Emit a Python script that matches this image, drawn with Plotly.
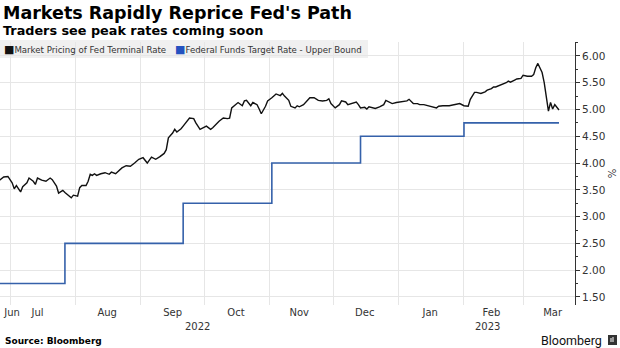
import plotly.graph_objects as go

# ---- Data ----
terminal_dates = [
    "2022-06-26","2022-06-28","2022-06-30","2022-07-01","2022-07-02","2022-07-03","2022-07-04","2022-07-06",
    "2022-07-07","2022-07-09","2022-07-10","2022-07-12","2022-07-13","2022-07-14","2022-07-16","2022-07-18",
    "2022-07-20","2022-07-21","2022-07-23","2022-07-24","2022-07-26","2022-07-27","2022-07-30","2022-07-31",
    "2022-08-02","2022-08-03","2022-08-04","2022-08-06","2022-08-07","2022-08-08","2022-08-09","2022-08-10",
    "2022-08-11","2022-08-13","2022-08-15","2022-08-17","2022-08-18","2022-08-20","2022-08-22","2022-08-23",
    "2022-08-25","2022-08-27","2022-08-29","2022-08-31","2022-09-02","2022-09-04","2022-09-06","2022-09-08",
    "2022-09-10","2022-09-12","2022-09-13","2022-09-14","2022-09-16","2022-09-17","2022-09-18","2022-09-20",
    "2022-09-21","2022-09-23","2022-09-24","2022-09-26","2022-09-27","2022-09-29","2022-10-01","2022-10-02",
    "2022-10-04","2022-10-05","2022-10-08","2022-10-10","2022-10-12","2022-10-13","2022-10-14","2022-10-16",
    "2022-10-17","2022-10-19","2022-10-20","2022-10-21","2022-10-23","2022-10-24","2022-10-26","2022-10-27",
    "2022-10-28","2022-10-30","2022-10-31","2022-11-02","2022-11-04","2022-11-06","2022-11-07","2022-11-08",
    "2022-11-10","2022-11-11","2022-11-13","2022-11-14","2022-11-15","2022-11-17","2022-11-19","2022-11-20",
    "2022-11-22","2022-11-24","2022-11-26","2022-11-28","2022-11-29","2022-11-30","2022-12-02","2022-12-04",
    "2022-12-05","2022-12-07","2022-12-08","2022-12-10","2022-12-12","2022-12-13","2022-12-14","2022-12-16",
    "2022-12-17","2022-12-18","2022-12-20","2022-12-21","2022-12-23","2022-12-25","2022-12-26","2022-12-28",
    "2022-12-29","2022-12-31","2023-01-02","2023-01-03","2023-01-05","2023-01-06","2023-01-08","2023-01-10",
    "2023-01-11","2023-01-13","2023-01-15","2023-01-17","2023-01-19","2023-01-20","2023-01-22","2023-01-25",
    "2023-01-28","2023-01-30","2023-02-01","2023-02-03","2023-02-04","2023-02-06","2023-02-07","2023-02-09",
    "2023-02-11","2023-02-12","2023-02-14","2023-02-15","2023-02-16","2023-02-18","2023-02-19","2023-02-21",
    "2023-02-22","2023-02-23","2023-02-25","2023-02-26","2023-02-28","2023-03-01","2023-03-03","2023-03-05",
    "2023-03-06","2023-03-07","2023-03-08","2023-03-10","2023-03-11","2023-03-13","2023-03-14","2023-03-15",
    "2023-03-16","2023-03-18",
]
terminal_rate = [
    3.68,3.74,3.75,3.70,3.63,3.52,3.58,3.46,
    3.56,3.63,3.72,3.66,3.60,3.72,3.68,3.66,
    3.72,3.69,3.57,3.44,3.49,3.45,3.35,3.40,
    3.38,3.54,3.58,3.58,3.66,3.79,3.77,3.80,
    3.77,3.80,3.82,3.79,3.83,3.80,3.87,3.91,
    3.95,3.94,4.00,4.07,4.10,4.00,4.11,4.07,
    4.12,4.18,4.25,4.47,4.56,4.63,4.58,4.64,
    4.69,4.78,4.84,4.83,4.75,4.63,4.66,4.69,
    4.63,4.66,4.78,4.84,4.83,4.84,5.03,5.11,
    5.13,5.07,5.16,5.17,5.07,5.13,5.09,5.01,
    4.92,5.06,5.16,5.22,5.29,5.26,5.30,5.25,
    5.17,5.06,5.03,5.07,5.05,5.09,5.17,5.22,
    5.22,5.17,5.16,5.17,5.20,5.11,5.03,5.09,
    5.16,5.14,5.09,5.11,5.14,5.09,5.03,5.04,
    5.01,5.05,5.03,5.02,5.05,5.09,5.17,5.13,
    5.11,5.13,5.14,5.14,5.16,5.19,5.11,5.11,
    5.09,5.09,5.07,5.06,5.03,5.06,5.07,5.07,
    5.09,5.11,5.07,5.06,5.19,5.32,5.32,5.30,
    5.33,5.36,5.39,5.42,5.42,5.45,5.47,5.50,
    5.53,5.51,5.55,5.57,5.58,5.64,5.62,5.62,
    5.65,5.78,5.86,5.69,5.50,4.97,5.13,5.01,
    5.09,4.99,
]

ffr_dates = ["2022-06-26","2022-07-27","2022-09-21","2022-11-02","2022-12-14","2023-02-01","2023-03-18"]
ffr_upper = [1.75, 2.50, 3.25, 4.00, 4.50, 4.75, 4.75]

month_tick_dates = ["2022-07-02","2022-07-14","2022-08-16","2022-09-16","2022-10-16","2022-11-15",
                    "2022-12-16","2023-01-16","2023-02-14","2023-03-15"]
month_tick_labels = ["Jun","Jul","Aug","Sep","Oct","Nov","Dec","Jan","Feb","Mar"]
year_label_dates = ["2022-09-28","2023-02-12"]
year_labels = ["2022","2023"]

series_names = ["Market Pricing of Fed Terminal Rate", "Federal Funds Target Rate - Upper Bound"]
series_colors = ["#111111", "#3561aa"]
legend_colors = ["#111111", "#2452c0"]

# ---- Geometry helpers (pixel -> paper) ----
W, H = 620, 348
ML, MR, MT, MB = 0, 45, 42, 43
PW, PH = W - ML - MR, H - MT - MB
def px(p):
    return (p - ML) / PW
def py(p):
    return (H - MB - p) / PH

fig = go.Figure()
fig.add_trace(go.Scatter(x=terminal_dates, y=terminal_rate, mode="lines",
                         line=dict(color=series_colors[0], width=1.4), name=series_names[0]))
fig.add_trace(go.Scatter(x=ffr_dates, y=ffr_upper, mode="lines", line_shape="hv",
                         line=dict(color=series_colors[1], width=1.6), name=series_names[1]))

FONT = "DejaVu Sans"
fig.update_layout(
    width=W, height=H, margin=dict(l=ML, r=MR, t=MT, b=MB),
    plot_bgcolor="white", paper_bgcolor="white", showlegend=False,
    font=dict(family=FONT, size=10, color="#333333"),
    xaxis=dict(
        type="date", range=["2022-06-26 06:00", "2023-03-25 14:00"],
        tickmode="array", tickvals=month_tick_dates, ticktext=month_tick_labels,
        showgrid=False, showline=False, zeroline=False, ticks="",
        tickfont=dict(family=FONT, size=10, color="#333333"),
        minor=dict(tickmode="linear", tick0="2022-07-01", dtick="M1", showgrid=True,
                   gridcolor="#e6e6e6", gridwidth=1, ticks=""),
    ),
    yaxis=dict(
        side="right", range=[1.35, 6.26], dtick=0.5, tick0=0, tickformat=".2f",
        showgrid=True, gridcolor="#e6e6e6", gridwidth=1, zeroline=False,
        showline=True, linecolor="#333333", linewidth=1,
        ticks="outside", ticklen=4, tickcolor="#333333",
        minor=dict(dtick=0.25, ticks="outside", ticklen=2, tickcolor="#333333", showgrid=False),
        tickfont=dict(family=FONT, size=10.5, color="#333333"),
        title=dict(text="%", font=dict(family=FONT, size=10, color="#333333"), standoff=4),
    ),
)

ann = []
ann.append(dict(text="<b>Markets Rapidly Reprice Fed's Path</b>", x=px(1), y=py(13.5), xref="paper", yref="paper",
                xanchor="left", yanchor="middle", showarrow=False,
                font=dict(family=FONT, size=17.5, color="#000000")))
ann.append(dict(text="<b>Traders see peak rates coming soon</b>", x=px(1), y=py(31), xref="paper", yref="paper",
                xanchor="left", yanchor="middle", showarrow=False,
                font=dict(family=FONT, size=12.8, color="#000000")))
# legend
legend_x = [2, 173]
for i in range(2):
    ann.append(dict(text=f"<span style='color:{legend_colors[i]};font-size:11px'>■</span>{series_names[i]}",
                    x=px(legend_x[i]), y=py(49.5), xref="paper", yref="paper",
                    xanchor="left", yanchor="middle", showarrow=False,
                    font=dict(family=FONT, size=8.6, color="#333333")))
for d, t in zip(year_label_dates, year_labels):
    ann.append(dict(text=t, x=d, y=py(326), xref="x", yref="paper", xanchor="center", yanchor="middle",
                    showarrow=False, font=dict(family=FONT, size=10, color="#333333")))
ann.append(dict(text="<b>Source: Bloomberg</b>", x=px(3), y=py(341), xref="paper", yref="paper",
                xanchor="left", yanchor="middle", showarrow=False,
                font=dict(family=FONT, size=9, color="#000000")))
ann.append(dict(text="Bloomberg", x=px(604), y=py(340), xref="paper", yref="paper",
                xanchor="right", yanchor="middle", showarrow=False,
                font=dict(family="Roboto", size=12.5, color="#111111")))
fig.update_layout(annotations=ann)

fig.update_layout(shapes=[
    dict(type="rect", xref="paper", yref="paper", x0=px(0), x1=px(368), y0=py(58), y1=py(40),
         fillcolor="#f0f0f0", line=dict(width=0), layer="below"),
    dict(type="rect", xref="paper", yref="paper", x0=px(608), x1=px(617), y0=py(345), y1=py(335),
         fillcolor="#333333", line=dict(width=0)),
    dict(type="rect", xref="paper", yref="paper", x0=px(610.5), x1=px(611.5), y0=py(342), y1=py(338),
         fillcolor="#ffffff", line=dict(width=0)),
    dict(type="rect", xref="paper", yref="paper", x0=px(612.5), x1=px(613.5), y0=py(342), y1=py(337),
         fillcolor="#ffffff", line=dict(width=0)),
])

fig.write_html("out.html")
